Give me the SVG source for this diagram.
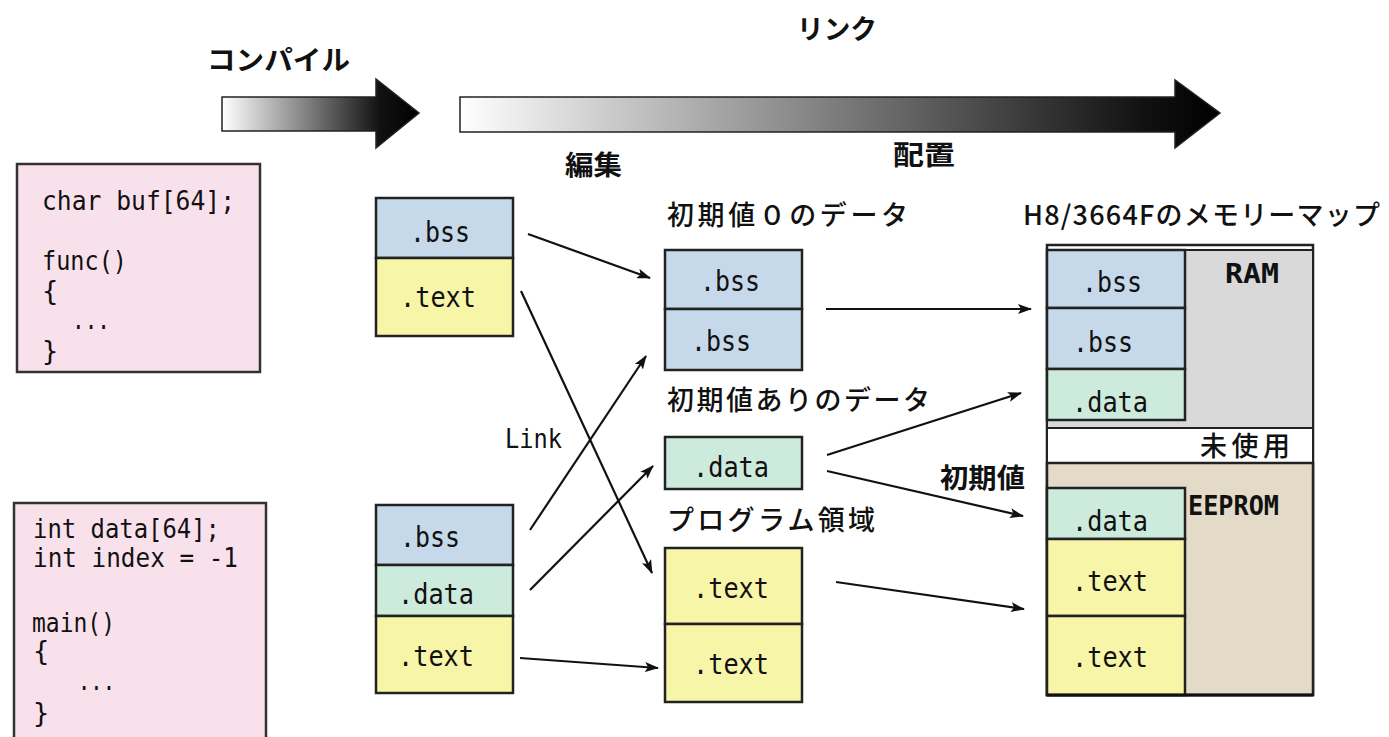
<svg xmlns="http://www.w3.org/2000/svg" width="1389" height="737" viewBox="0 0 1389 737">
<defs>
<linearGradient id="gc" x1="222" y1="0" x2="420" y2="0" gradientUnits="userSpaceOnUse">
<stop offset="0" stop-color="#ffffff"/><stop offset="0.8" stop-color="#111"/><stop offset="1" stop-color="#000"/>
</linearGradient>
<linearGradient id="gl" x1="460" y1="0" x2="1220" y2="0" gradientUnits="userSpaceOnUse">
<stop offset="0" stop-color="#ffffff"/><stop offset="0.9" stop-color="#111"/><stop offset="1" stop-color="#000"/>
</linearGradient>
<marker id="ah2" viewBox="0 0 14 10" refX="13" refY="5" markerWidth="14" markerHeight="10" markerUnits="userSpaceOnUse" orient="auto">
<path d="M0,0 L14,5 L0,10 L3,5 z" fill="#111"/>
</marker>
</defs>
<style>
.jp{font-family:"Noto Sans CJK JP","Noto Sans",sans-serif;font-size:27px;fill:#111;font-weight:500;}
.b{font-weight:700;}
.code{font-family:"DejaVu Sans Mono","Liberation Mono",monospace;font-size:27px;fill:#111;}
.sec{font-family:"DejaVu Sans Mono","Liberation Mono",monospace;font-size:28px;fill:#111;text-anchor:middle;}
.box{stroke:#222;stroke-width:2.5;}
.bss{fill:#c5d9ea;}
.text{fill:#f7f5a8;}
.data{fill:#cdebdc;}
.pink{fill:#f9e1ec;stroke:#333;stroke-width:2.5;}
.ln{stroke:#111;stroke-width:2.2;fill:none;marker-end:url(#ah2);}
</style>
<rect width="1389" height="737" fill="#fff"/>

<g id="compile-arrow">
<polygon points="222,97 376,97 376,79 419,113 376,148 376,131 222,131" fill="url(#gc)" stroke="#222" stroke-width="1.5"/>
<text class="jp b" x="207" y="70" textLength="143" lengthAdjust="spacingAndGlyphs">コンパイル</text>
</g>
<g id="link-arrow">
<polygon points="460,97 1175,97 1175,80 1220,113 1175,148 1175,132 460,132" fill="url(#gl)" stroke="#222" stroke-width="1.5"/>
<text class="jp b" x="797" y="39" textLength="80" lengthAdjust="spacingAndGlyphs">リンク</text>
<text class="jp b" x="565" y="175" textLength="57" lengthAdjust="spacingAndGlyphs">編集</text>
<text class="jp b" x="893" y="165" textLength="62" lengthAdjust="spacingAndGlyphs">配置</text>
</g>

<g id="src1">
<rect class="pink" x="17" y="164" width="243" height="208"/>
<text class="code" x="42" y="210" textLength="193" lengthAdjust="spacingAndGlyphs">char buf[64];</text>
<text class="code" x="42" y="270" textLength="85" lengthAdjust="spacingAndGlyphs">func()</text>
<text class="code" x="42" y="300">{</text>
<text class="code" x="72" y="329" textLength="38" lengthAdjust="spacingAndGlyphs">...</text>
<text class="code" x="42" y="360">}</text>
</g>
<g id="src2">
<rect class="pink" x="14" y="503" width="252" height="236"/>
<text class="code" x="33" y="538" textLength="187" lengthAdjust="spacingAndGlyphs">int data[64];</text>
<text class="code" x="33" y="567" textLength="205" lengthAdjust="spacingAndGlyphs">int index = -1</text>
<text class="code" x="32" y="632" textLength="83" lengthAdjust="spacingAndGlyphs">main()</text>
<text class="code" x="33" y="660">{</text>
<text class="code" x="78" y="690" textLength="37" lengthAdjust="spacingAndGlyphs">...</text>
<text class="code" x="33" y="722">}</text>
</g>

<g id="obj1">
<rect class="box bss" x="376" y="198" width="137" height="60"/>
<rect class="box text" x="376" y="258" width="137" height="78"/>
<text class="sec" x="440" y="242" textLength="60" lengthAdjust="spacingAndGlyphs">.bss</text>
<text class="sec" x="438" y="307" textLength="76" lengthAdjust="spacingAndGlyphs">.text</text>
</g>
<g id="obj2">
<rect class="box bss" x="376" y="505" width="137" height="60"/>
<rect class="box data" x="376" y="565" width="137" height="51"/>
<rect class="box text" x="376" y="616" width="137" height="77"/>
<text class="sec" x="430" y="547" textLength="60" lengthAdjust="spacingAndGlyphs">.bss</text>
<text class="sec" x="436" y="604" textLength="76" lengthAdjust="spacingAndGlyphs">.data</text>
<text class="sec" x="436" y="666" textLength="76" lengthAdjust="spacingAndGlyphs">.text</text>
</g>

<g id="mid-bss">
<text class="jp" x="667" y="225" textLength="241" lengthAdjust="spacing">初期値０のデータ</text>
<rect class="box bss" x="665" y="250" width="137" height="59"/>
<rect class="box bss" x="665" y="309" width="137" height="61"/>
<text class="sec" x="730" y="291" textLength="60" lengthAdjust="spacingAndGlyphs">.bss</text>
<text class="sec" x="721" y="351" textLength="60" lengthAdjust="spacingAndGlyphs">.bss</text>
</g>
<g id="mid-data">
<text class="jp" x="667" y="410" textLength="263" lengthAdjust="spacing">初期値ありのデータ</text>
<rect class="box data" x="665" y="437" width="137" height="52"/>
<text class="sec" x="731" y="477" textLength="76" lengthAdjust="spacingAndGlyphs">.data</text>
</g>
<g id="mid-text">
<text class="jp" x="667" y="530" textLength="208" lengthAdjust="spacing">プログラム領域</text>
<rect class="box text" x="665" y="548" width="137" height="76"/>
<rect class="box text" x="665" y="624" width="137" height="78"/>
<text class="sec" x="731" y="598" textLength="76" lengthAdjust="spacingAndGlyphs">.text</text>
<text class="sec" x="731" y="674" textLength="76" lengthAdjust="spacingAndGlyphs">.text</text>
</g>

<g id="memmap">
<text class="jp" x="1023" y="225" textLength="357" lengthAdjust="spacing">H8/3664Fのメモリーマップ</text>
<rect x="1047" y="245" width="266" height="450" fill="#fff" stroke="#222" stroke-width="2.5"/>
<rect x="1047" y="250" width="266" height="178" fill="#d9d9d9" stroke="#222" stroke-width="2"/>
<rect x="1047" y="428" width="266" height="35" fill="#fff" stroke="#222" stroke-width="2"/>
<rect x="1047" y="463" width="266" height="232" fill="#e3dac8" stroke="#222" stroke-width="2.5"/>
<rect class="box bss" x="1047" y="250" width="138" height="58"/>
<rect class="box bss" x="1047" y="308" width="138" height="61"/>
<rect class="box data" x="1047" y="369" width="138" height="51"/>
<rect class="box data" x="1047" y="488" width="138" height="51"/>
<rect class="box text" x="1047" y="539" width="138" height="77"/>
<rect class="box text" x="1047" y="616" width="138" height="79"/>
<line x1="1047" y1="695" x2="1313" y2="695" stroke="#111" stroke-width="3"/>
<text class="sec" x="1112" y="292" textLength="60" lengthAdjust="spacingAndGlyphs">.bss</text>
<text class="sec" x="1103" y="352" textLength="60" lengthAdjust="spacingAndGlyphs">.bss</text>
<text class="sec" x="1110" y="412" textLength="76" lengthAdjust="spacingAndGlyphs">.data</text>
<text class="sec" x="1110" y="531" textLength="76" lengthAdjust="spacingAndGlyphs">.data</text>
<text class="sec" x="1110" y="591" textLength="76" lengthAdjust="spacingAndGlyphs">.text</text>
<text class="sec" x="1110" y="667" textLength="76" lengthAdjust="spacingAndGlyphs">.text</text>
<text class="code b" x="1225" y="283" textLength="54" lengthAdjust="spacingAndGlyphs">RAM</text>
<text class="code b" x="1188" y="515" textLength="91" lengthAdjust="spacingAndGlyphs">EEPROM</text>
<text class="jp" x="1200" y="456" textLength="90" lengthAdjust="spacing">未使用</text>
</g>

<g id="connectors">
<line class="ln" x1="528" y1="234" x2="650" y2="278"/>
<line class="ln" x1="521" y1="291" x2="652" y2="573"/>
<line class="ln" x1="530" y1="530" x2="646" y2="356"/>
<line class="ln" x1="530" y1="590" x2="653" y2="466"/>
<line class="ln" x1="520" y1="658" x2="658" y2="668"/>
<line class="ln" x1="826" y1="309" x2="1031" y2="309"/>
<line class="ln" x1="827" y1="455" x2="1021" y2="393"/>
<line class="ln" x1="827" y1="471" x2="1023" y2="516"/>
<line class="ln" x1="836" y1="582" x2="1024" y2="609"/>
<text class="code" x="505" y="448" textLength="57" lengthAdjust="spacingAndGlyphs">Link</text>
<text class="jp b" x="940" y="488" textLength="85" lengthAdjust="spacingAndGlyphs">初期値</text>
</g>
</svg>
